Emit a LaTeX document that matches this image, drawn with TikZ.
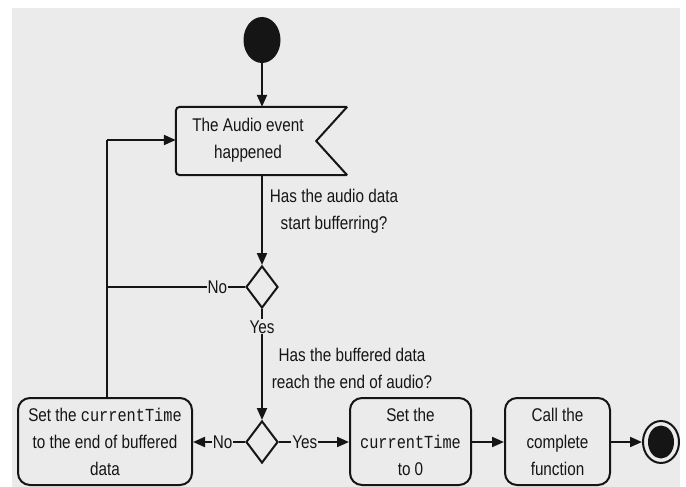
\documentclass[tikz,border=0pt]{standalone}
\usepackage{fontspec}
\setmainfont[FakeStretch=0.83]{Liberation Sans}
\setmonofont[FakeStretch=0.83]{Liberation Mono}
\usetikzlibrary{shapes.geometric,arrows.meta,calc}
\definecolor{bgc}{HTML}{EBEBEB}
\definecolor{ink}{HTML}{151515}
\tikzset{
  base/.style={font=\fontsize{18.4}{27}\selectfont, text=ink},
  flow/.style={draw=ink, line width=2pt, -{Triangle[length=12pt,width=10pt]}},
  line/.style={draw=ink, line width=2pt},
  action/.style={base, draw=ink, line width=2pt, rounded corners=12pt, align=center, inner sep=0pt},
  decision/.style={draw=ink, line width=2pt, diamond, minimum width=32pt, minimum height=42pt, inner sep=0pt},
  guard/.style={base, fill=bgc, inner sep=1pt},
  note/.style={base, align=center},
}
\begin{document}
\begin{tikzpicture}[x=1pt, y=-1pt]
\useasboundingbox (0,0) rectangle (686,487);
\fill[bgc] (12,8) rectangle (680,487);

% initial node
\node (start) at (262,40) [ellipse, fill=ink, minimum width=37pt, minimum height=46pt, inner sep=0pt] {};

% accept-event node with a notch on its right side
\node (event) at (261.5,141) [minimum width=171pt, minimum height=68pt, inner sep=0pt] {};
\draw[line, rounded corners=4pt] (event.north east) -- (event.north west) -- (event.south west) -- (event.south east);
\draw[line, line join=miter] (event.north east) -- ($(event.east)+(-31,0)$) -- (event.south east);
\node (eventtxt) at (248,140) [note] {The Audio event\\happened};

% decisions
\node (d1) at (262,287) [decision] {};
\node (d2) at (262,442) [decision] {};

% actions
\node (seek) at (105,441.5) [action, minimum width=174pt, minimum height=87pt] {Set the \texttt{currentTime}\\to the end of buffered\\data};
\node (reset) at (410.5,441.5) [action, minimum width=121pt, minimum height=87pt] {Set the\\\texttt{currentTime}\\to 0};
\node (done) at (557.5,441.5) [action, minimum width=105pt, minimum height=87pt] {Call the\\complete\\function};

% final node
\node (final) at (661,442) [ellipse, draw=ink, line width=2pt, minimum width=36pt, minimum height=42pt, inner sep=0pt] {};
\fill[ink] (final.center) ellipse (13pt and 16.5pt);

% questions beside the flow
\node (q1) at (334,211) [note] {Has the audio data\\start bufferring?};
\node (q2) at (352,368) [note] {Has the buffered data\\reach the end of audio?};

% loop-back junction
\coordinate (j1) at (107,287);
\coordinate (j2) at (107,140);

% connectors
\draw[flow] (start.south) -- (event.north -| start.south);
\draw[flow] (event.south -| d1.north) -- (d1.north);
\draw[line] (d1.west) -- node[guard, pos=0.2] {No} (j1);
\draw[line] (seek.north -| j1) -- (j2);
\draw[flow] (j2) -- (event.west |- j2);
\draw[flow] (d1.south) -- node[guard, pos=0.16] {Yes} (d2.north);
\draw[flow] (d2.west) -- node[guard, pos=0.43] {No} (seek.east |- d2.west);
\draw[flow] (d2.east) -- node[guard, pos=0.37] {Yes} (reset.west |- d2.east);
\draw[flow] (reset.east |- d2.east) -- (done.west |- d2.east);
\draw[flow] (done.east |- d2.east) -- (final.west);
\end{tikzpicture}
\end{document}
